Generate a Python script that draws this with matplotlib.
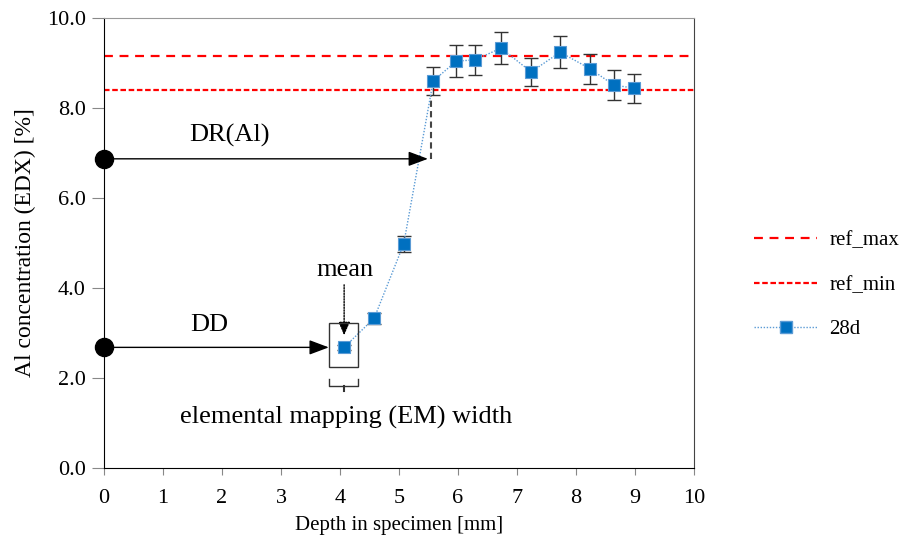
#! /usr/bin/env python3

"""Al concentration profile over specimen depth with depth annotations."""

import matplotlib.pyplot as plt
from matplotlib.lines import Line2D
from matplotlib.patches import Rectangle

plt.rcParams['font.family'] = ['Liberation Serif', 'DejaVu Serif']

# measured profile (28 days)
depth = [4.07, 4.58, 5.08, 5.58, 5.97, 6.29, 6.73, 7.24, 7.73, 8.24, 8.64, 8.98]
al_conc = [2.68, 3.33, 4.98, 8.60, 9.04, 9.07, 9.33, 8.80, 9.24, 8.87, 8.51, 8.44]
al_err = [0.05, 0.12, 0.18, 0.32, 0.35, 0.34, 0.35, 0.32, 0.35, 0.33, 0.33, 0.32]

# reference band
ref_max = 9.15
ref_min = 8.41

# annotation levels
dr_level = 6.87
dd_level = 2.68
em_left = 3.81
em_right = 4.31

x_ticks = list(range(0, 11))
y_ticks = [0, 2, 4, 6, 8, 10]


def main():
    fig = plt.figure(figsize=(9.06, 5.46), dpi=100)
    ax = fig.add_axes([0.1148, 0.1429, 0.6512, 0.8242])

    ax.axhline(ref_max, color='red', ls=(0, (4, 3)), lw=1.6, label='ref_max')
    ax.axhline(ref_min, color='red', ls=(0, (2.5, 1.2)), lw=1.6,
               label='ref_min')
    ax.errorbar(depth, al_conc, yerr=al_err, fmt='none', ecolor='#333333',
                elinewidth=1, capsize=5, capthick=1, zorder=3)
    ax.plot(depth, al_conc, color='#5b9bd5', ls=(0, (1, 1.2)), lw=1,
            marker='s', ms=8, mfc='#0070c0', mec='#5b9bd5', mew=0.8,
            label='28d', zorder=4)

    add_annotations(ax)

    ax.set_xlim(0, 10)
    ax.set_ylim(0, 10)
    ax.set_xticks(x_ticks)
    ax.set_yticks(y_ticks)
    ax.set_yticklabels([f'{v:.1f}' for v in y_ticks])
    ax.tick_params(direction='out', labelsize=16, color='#888888')
    ax.tick_params(axis='x', length=5, pad=10)
    ax.tick_params(axis='y', length=9, pad=4)
    ax.spines['top'].set_color('#999999')
    ax.spines['right'].set_color('#444444')
    ax.set_xlabel('Depth in specimen [mm]', fontsize=15, labelpad=6)
    ax.set_ylabel('Al concentration (EDX) [%]', fontsize=17, labelpad=8)

    handles = [
        Line2D([], [], color='red', ls=(0, (4, 3)), lw=1.6),
        Line2D([], [], color='red', ls=(0, (2.5, 1.2)), lw=1.6),
        Line2D([], [], color='#5b9bd5', ls=(0, (1, 1.2)), lw=1, marker='s',
               ms=8, mfc='#0070c0', mec='#5b9bd5'),
    ]
    fig.legend(handles, ['ref_max', 'ref_min', '28d'],
               loc='center left', bbox_to_anchor=(0.812, 0.478),
               frameon=False, fontsize=15, handlelength=3.0,
               labelspacing=1.2, handletextpad=0.6, borderpad=0.4)

    fig.savefig('out.png', dpi=100)


def add_annotations(ax):
    """Draw the DR(Al) and DD depth arrows and the EM width marker."""
    arrow = dict(arrowstyle='-|>,head_length=1.2,head_width=0.45',
                 color='black', lw=1, shrinkA=0, shrinkB=0)

    # DR(Al)
    ax.annotate('', xy=(5.49, dr_level), xytext=(0, dr_level),
                arrowprops=arrow, zorder=5)
    ax.plot([5.55, 5.55], [dr_level, 8.28], color='#444444', ls=(0, (3, 2)),
            lw=1.5, zorder=2)
    ax.text(2.12, 7.38, 'DR(Al)', fontsize=19, ha='center', va='center')

    # DD
    ax.annotate('', xy=(em_left, dd_level), xytext=(0, dd_level),
                arrowprops=arrow, zorder=5)
    ax.text(1.78, 3.18, 'DD', fontsize=19, ha='center', va='center')

    ax.plot([0, 0], [dr_level, dd_level], ls='none', marker='o', ms=13,
            color='black', clip_on=False, zorder=6)

    # EM window around first point
    ax.add_patch(Rectangle((em_left, 2.25), em_right - em_left, 0.98,
                           fill=False, ec='#333333', lw=1, zorder=5))
    ax.plot([em_left, em_left, em_right, em_right],
            [1.97, 1.82, 1.82, 1.97], color='#333333', lw=1)
    ax.plot([4.06, 4.06], [1.82, 1.7], color='#333333', lw=1.5)

    ax.annotate('', xy=(4.07, 2.95), xytext=(4.07, 4.07),
                arrowprops=dict(arrowstyle='-|>,head_length=0.8,head_width=0.35',
                                color='black', lw=1, ls=(0, (1, 1)),
                                shrinkA=0, shrinkB=0))
    ax.text(4.08, 4.4, 'mean', fontsize=19, ha='center', va='center')
    ax.text(4.1, 1.12, 'elemental mapping (EM) width', fontsize=19,
            ha='center', va='center')


if __name__ == '__main__':
    main()
